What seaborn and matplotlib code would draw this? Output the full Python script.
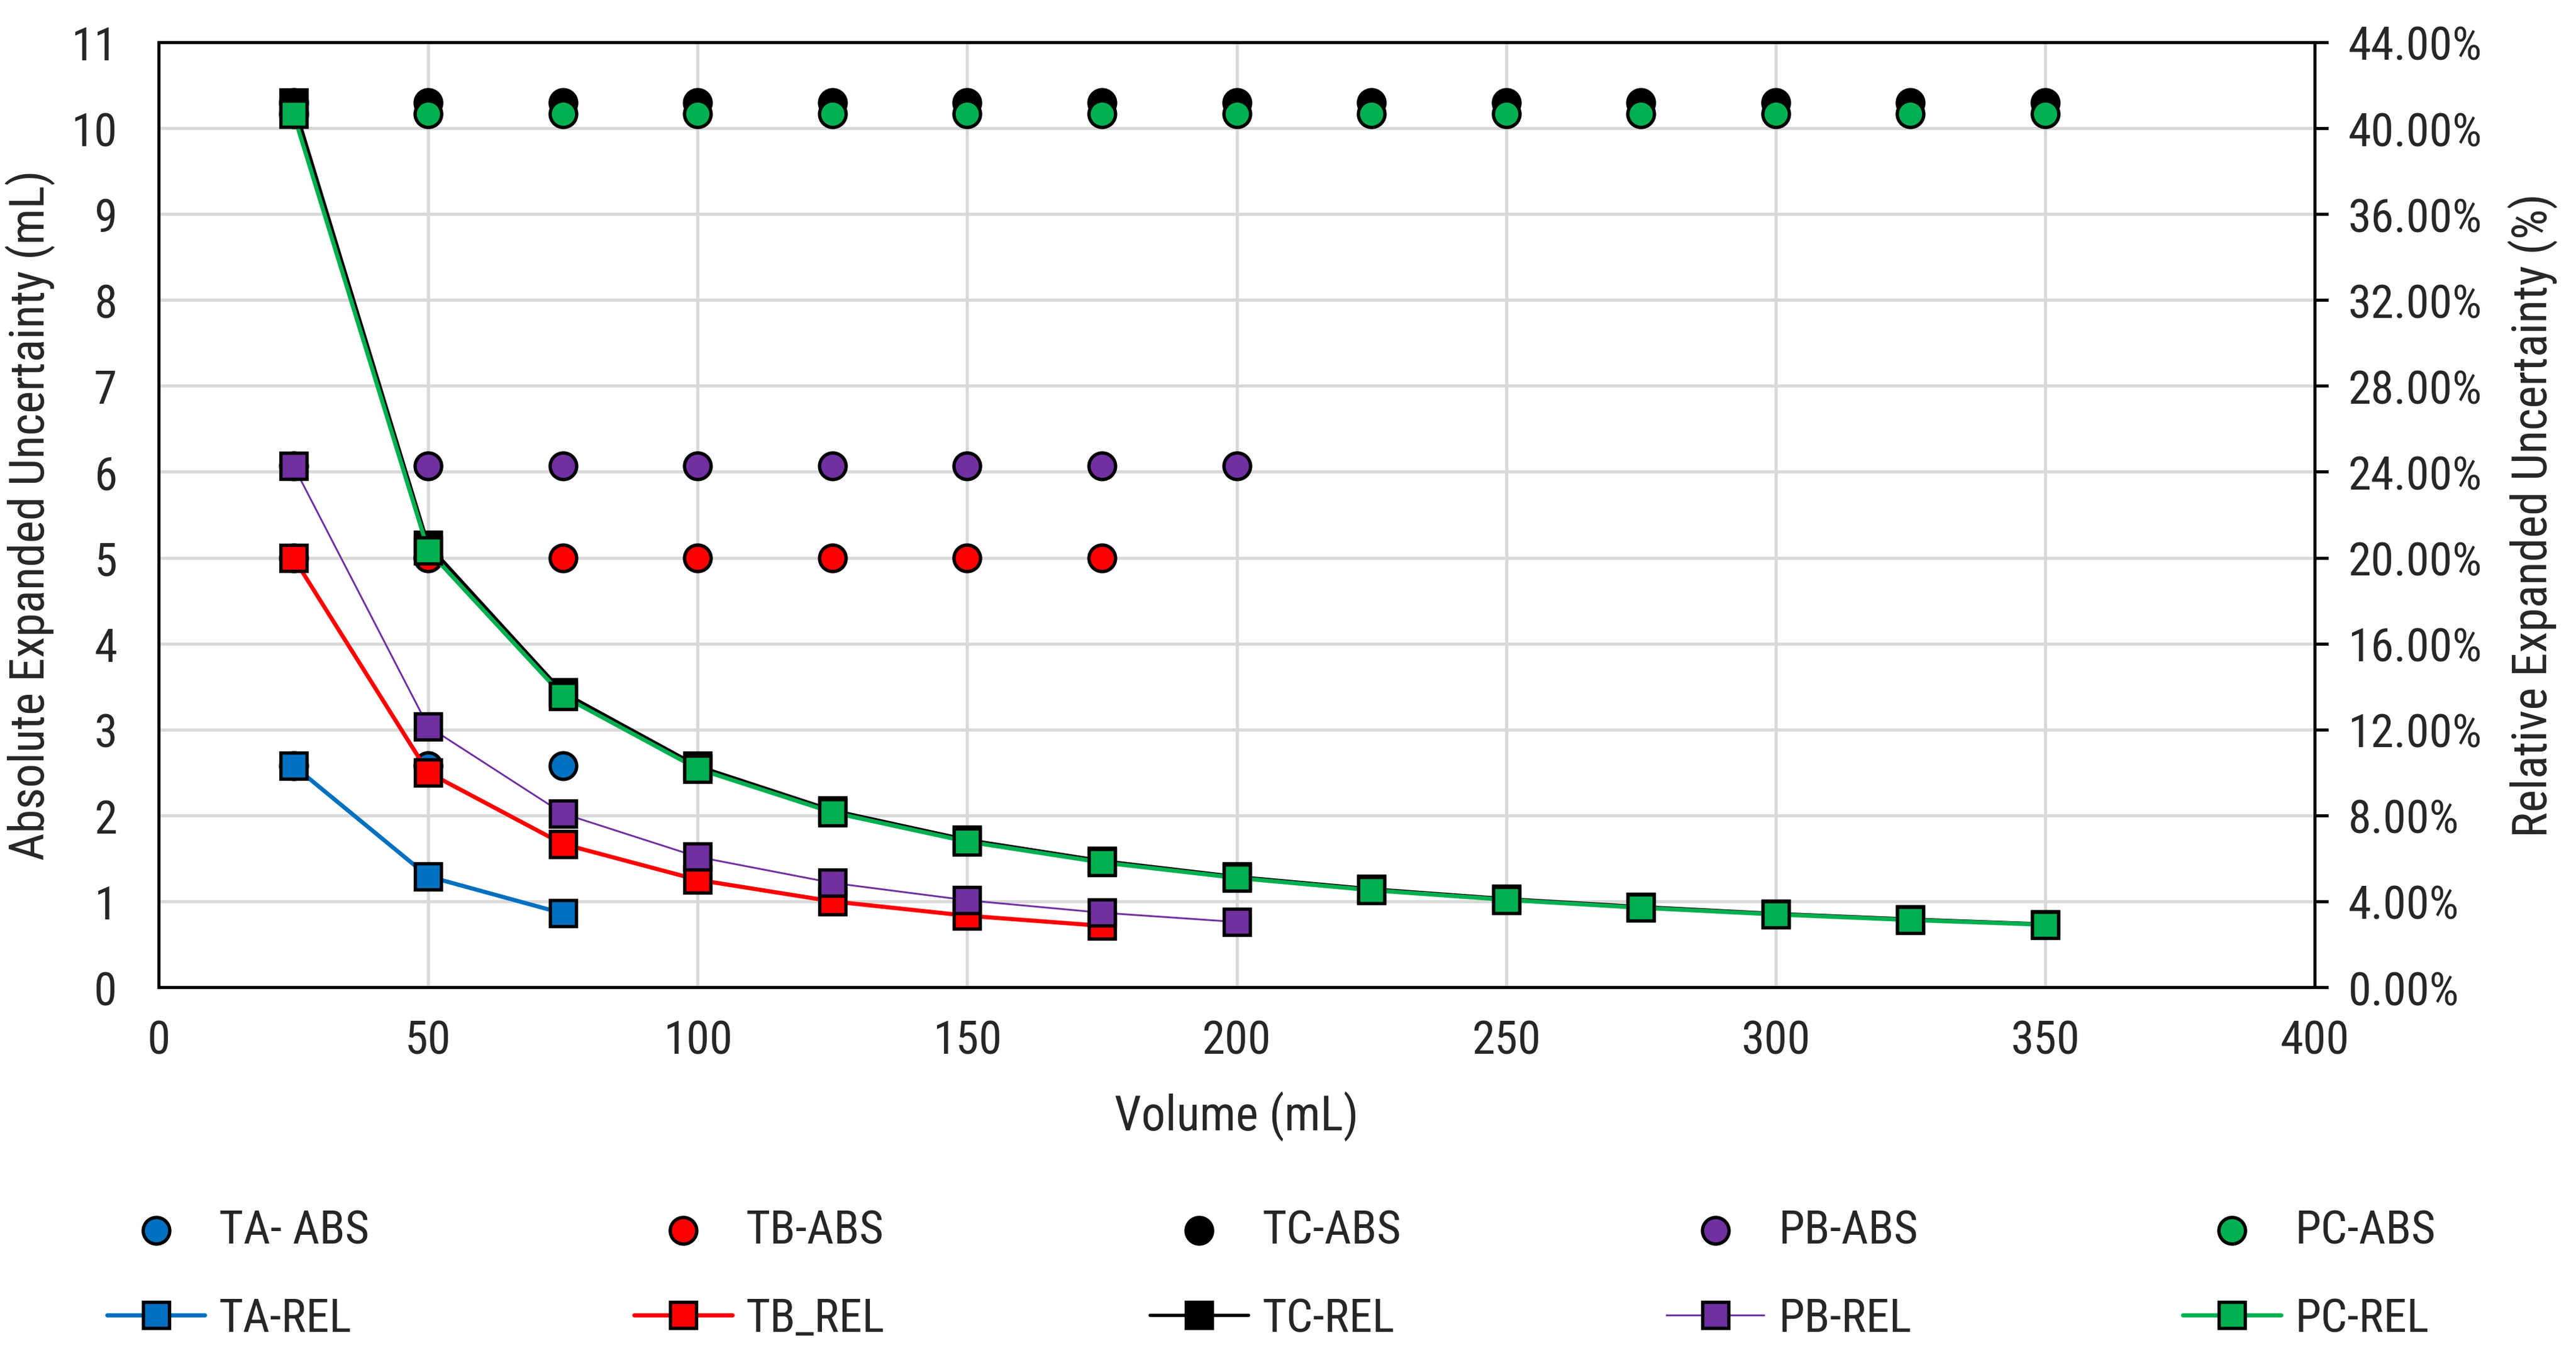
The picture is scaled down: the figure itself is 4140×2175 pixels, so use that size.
import numpy as np
import pandas as pd
import matplotlib
matplotlib.use('Agg')
import matplotlib.pyplot as plt
from matplotlib.ticker import PercentFormatter, MultipleLocator
import seaborn as sns

sns.set_style('white')
plt.rcParams['font.family'] = ['Roboto Condensed', 'Liberation Sans', 'DejaVu Sans']

# data
volume_ta = [25, 50, 75]
ta_abs = [2.58, 2.58, 2.58]
ta_rel = [0.1032, 0.0516, 0.0344]

volume_tb = [25, 50, 75, 100, 125, 150, 175]
tb_abs = [5.0, 5.0, 5.0, 5.0, 5.0, 5.0, 5.0]
tb_rel = [0.2000, 0.1000, 0.0667, 0.0500, 0.0400, 0.0333, 0.0286]

volume_pb = [25, 50, 75, 100, 125, 150, 175, 200]
pb_abs = [6.07, 6.07, 6.07, 6.07, 6.07, 6.07, 6.07, 6.07]
pb_rel = [0.2428, 0.1214, 0.0809, 0.0607, 0.0486, 0.0405, 0.0347, 0.0304]

volume_c = [25, 50, 75, 100, 125, 150, 175, 200, 225, 250, 275, 300, 325, 350]
tc_abs = [10.3, 10.3, 10.3, 10.3, 10.3, 10.3, 10.3, 10.3, 10.3, 10.3, 10.3, 10.3, 10.3, 10.3]
tc_rel = [0.4120, 0.2060, 0.1373, 0.1030, 0.0824, 0.0687, 0.0589, 0.0515,
          0.0458, 0.0412, 0.0375, 0.0343, 0.0317, 0.0294]
pc_abs = [10.17, 10.17, 10.17, 10.17, 10.17, 10.17, 10.17, 10.17, 10.17, 10.17, 10.17, 10.17, 10.17, 10.17]
pc_rel = [0.4068, 0.2034, 0.1356, 0.1017, 0.0814, 0.0678, 0.0581, 0.0509,
          0.0452, 0.0407, 0.0370, 0.0339, 0.0313, 0.0291]

series = [
    # abs label, rel label, x, abs, rel, colour, rel line width
    ('TA- ABS', 'TA-REL', volume_ta, ta_abs, ta_rel, '#0070C0', 1.6),
    ('TB-ABS', 'TB_REL', volume_tb, tb_abs, tb_rel, '#FF0000', 1.6),
    ('TC-ABS', 'TC-REL', volume_c, tc_abs, tc_rel, '#000000', 1.3),
    ('PB-ABS', 'PB-REL', volume_pb, pb_abs, pb_rel, '#7030A0', 0.7),
    ('PC-ABS', 'PC-REL', volume_c, pc_abs, pc_rel, '#00B050', 1.6),
]

fig, ax = plt.subplots(figsize=(13.8, 7.2533), dpi=300)
fig.subplots_adjust(left=0.0616, right=0.8986, top=0.9683, bottom=0.2702)
ax2 = ax.twinx()

for abs_lab, rel_lab, x, a, r, col, lw in series:
    sns.scatterplot(x=x, y=a, ax=ax, color=col, s=105, edgecolor='black',
                    linewidth=1.3, label=abs_lab, zorder=3)
    sns.lineplot(x=x, y=r, ax=ax2, color=col, linewidth=lw, marker='s',
                 markersize=10, markeredgecolor='black', markeredgewidth=1.3,
                 markerfacecolor=col, label=rel_lab)

for a in (ax, ax2):
    if a.get_legend() is not None:
        a.get_legend().remove()

ax.set_xlim(0, 400)
ax.set_ylim(0, 11)
ax2.set_ylim(0, 0.44)
ax.xaxis.set_major_locator(MultipleLocator(50))
ax.yaxis.set_major_locator(MultipleLocator(1))
ax2.yaxis.set_major_locator(MultipleLocator(0.04))
ax2.yaxis.set_major_formatter(PercentFormatter(xmax=1, decimals=2))

ax.grid(True, color='#d9d9d9', linewidth=1.2)
ax.set_axisbelow(True)
for a in (ax, ax2):
    for sp in a.spines.values():
        sp.set_color('black')
        sp.set_linewidth(1.2)
        sp.set_visible(True)

ax.tick_params(axis='x', length=0, pad=12, labelsize=18)
ax.tick_params(axis='y', length=0, pad=16, labelsize=18)
ax2.tick_params(axis='y', direction='out', length=5.3, width=1.2, color='black',
                pad=7.5, labelsize=18, right=True)

ax.set_xlabel('Volume (mL)', fontsize=18.5, labelpad=11)
ax.set_ylabel('Absolute Expanded Uncertainty (mL)', fontsize=18.5, labelpad=6)
ax2.set_ylabel('Relative Expanded Uncertainty (%)', fontsize=18.5, rotation=90, labelpad=10)

h1, l1 = ax.get_legend_handles_labels()
h2, l2 = ax2.get_legend_handles_labels()
handles, labels = [], []
for i in range(len(h1)):
    handles += [h1[i], h2[i]]
    labels += [l1[i], l2[i]]

fig.legend(handles, labels, ncol=5, loc='lower left',
           bbox_to_anchor=(0.0415, 0.009, 0.904, 0.12), mode='expand',
           frameon=False, borderaxespad=0, borderpad=0, fontsize=18,
           handlelength=2.1, handletextpad=0.3, labelspacing=0.95)

fig.savefig('out.png', dpi=300)
